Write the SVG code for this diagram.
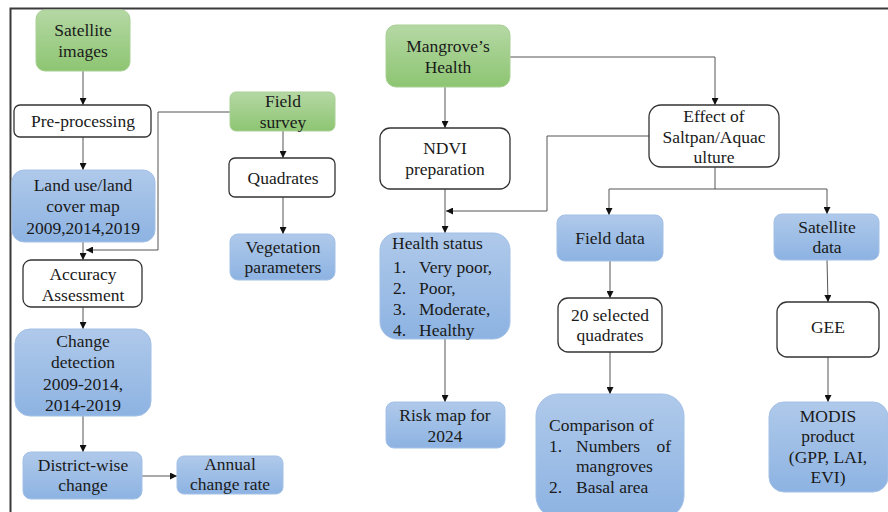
<svg xmlns="http://www.w3.org/2000/svg" width="888" height="512" viewBox="0 0 888 512">
<defs>
<linearGradient id="gGreen" x1="0" y1="0" x2="0" y2="1">
<stop offset="0" stop-color="#b5d8a4"/><stop offset="1" stop-color="#8dc572"/>
</linearGradient>
<linearGradient id="gBlue" x1="0" y1="0" x2="0" y2="1">
<stop offset="0" stop-color="#afc9ea"/><stop offset="1" stop-color="#8db3e2"/>
</linearGradient>
<marker id="arr" markerWidth="7" markerHeight="7" refX="7" refY="3.5" orient="auto" markerUnits="userSpaceOnUse">
<path d="M0,0 L7,3.5 L0,7 z" fill="#111"/>
</marker>
<style>
text{font-family:"Times New Roman",Tinos,"Liberation Serif","Noto Serif","Nimbus Roman","FreeSerif","DejaVu Serif",serif;font-size:17.5px;fill:#1a1a1a}
.c{text-anchor:middle}
.e{text-anchor:end}
.green{fill:url(#gGreen);stroke:#a9d095;stroke-width:1}
.blue{fill:url(#gBlue);stroke:#a3c0e6;stroke-width:1}
.white{fill:#fff;stroke:#333;stroke-width:1.3}
.con{fill:none;stroke:#555;stroke-width:1}
.arrow{marker-end:url(#arr)}
.frame{fill:none;stroke:#3a3a3a;stroke-width:2}
</style>
</defs>
<rect width="888" height="512" fill="#fff"/>
<path class="frame" d="M10.5,512 V8.5 H888"/>

<g id="connectors">
<line class="con arrow" x1="83" y1="71" x2="83" y2="105"/>
<line class="con arrow" x1="83" y1="137" x2="83" y2="170"/>
<line class="con arrow" x1="83" y1="242" x2="83" y2="260"/>
<polyline class="con arrow" points="230,112 158,112 158,250 86,250"/>
<line class="con arrow" x1="283" y1="131" x2="283" y2="158"/>
<line class="con arrow" x1="283" y1="197" x2="283" y2="234"/>
<line class="con arrow" x1="83" y1="307" x2="83" y2="329"/>
<line class="con arrow" x1="83" y1="416" x2="83" y2="452"/>
<line class="con arrow" x1="142" y1="476" x2="177" y2="476"/>
<polyline class="con arrow" points="510,57 715,57 715,105"/>
<line class="con arrow" x1="445" y1="87" x2="445" y2="128"/>
<polyline class="con arrow" points="649,136 547,136 547,211 446,211"/>
<line class="con arrow" x1="445" y1="189" x2="445" y2="233"/>
<line class="con arrow" x1="445" y1="339" x2="445" y2="402"/>
<polyline class="con arrow" points="715,167 715,189 609,189 609,215"/>
<polyline class="con arrow" points="715,189 827,189 827,214"/>
<line class="con arrow" x1="610" y1="261" x2="610" y2="298"/>
<line class="con arrow" x1="610" y1="352" x2="610" y2="394"/>
<line class="con arrow" x1="827" y1="260" x2="828" y2="302"/>
<line class="con arrow" x1="828" y1="357" x2="828" y2="402"/>
</g>

<g id="satellite-images">
<rect class="green" x="36" y="10" width="94" height="61" rx="9"/>
<text class="c" x="83" y="36">Satellite</text>
<text class="c" x="83" y="57">images</text>
</g>
<g id="pre-processing">
<rect class="white" x="14" y="105" width="137" height="32" rx="6"/>
<text class="c" x="83" y="127">Pre-processing</text>
</g>
<g id="land-use">
<rect class="blue" x="12" y="170" width="143" height="72" rx="12"/>
<text class="c" x="83" y="191">Land use/land</text>
<text class="c" x="83" y="212">cover map</text>
<text class="c" x="83" y="234">2009,2014,2019</text>
</g>
<g id="field-survey">
<rect class="green" x="230" y="92" width="105" height="39" rx="6"/>
<text class="c" x="283" y="107">Field</text>
<text class="c" x="283" y="128">survey</text>
</g>
<g id="quadrates">
<rect class="white" x="229" y="158" width="106" height="39" rx="6"/>
<text class="c" x="283" y="184">Quadrates</text>
</g>
<g id="vegetation-parameters">
<rect class="blue" x="230" y="234" width="105" height="46" rx="8"/>
<text class="c" x="283" y="253">Vegetation</text>
<text class="c" x="283" y="273">parameters</text>
</g>
<g id="accuracy-assessment">
<rect class="white" x="23" y="260" width="119" height="47" rx="8"/>
<text class="c" x="83" y="280">Accuracy</text>
<text class="c" x="83" y="301">Assessment</text>
</g>
<g id="change-detection">
<rect class="blue" x="15" y="329" width="136" height="87" rx="15"/>
<text class="c" x="83" y="347">Change</text>
<text class="c" x="83" y="368">detection</text>
<text class="c" x="83" y="390">2009-2014,</text>
<text class="c" x="83" y="411">2014-2019</text>
</g>
<g id="district-wise-change">
<rect class="blue" x="23" y="452" width="119" height="47" rx="8"/>
<text class="c" x="83" y="471">District-wise</text>
<text class="c" x="83" y="491">change</text>
</g>
<g id="annual-change-rate">
<rect class="blue" x="177" y="456" width="106" height="38" rx="7"/>
<text class="c" x="230" y="470">Annual</text>
<text class="c" x="230" y="490">change rate</text>
</g>

<g id="mangroves-health">
<rect class="green" x="386" y="25" width="124" height="62" rx="10"/>
<text class="c" x="448" y="52">Mangrove’s</text>
<text class="c" x="448" y="73">Health</text>
</g>
<g id="ndvi-preparation">
<rect class="white" x="380" y="128" width="130" height="61" rx="10"/>
<text class="c" x="445" y="154">NDVI</text>
<text class="c" x="445" y="175">preparation</text>
</g>
<g id="health-status">
<rect class="blue" x="380" y="233" width="130" height="106" rx="17"/>
<text x="392" y="249">Health status</text>
<text x="393" y="273">1.</text><text x="419" y="273">Very poor,</text>
<text x="393" y="294">2.</text><text x="419" y="294">Poor,</text>
<text x="393" y="315">3.</text><text x="419" y="315">Moderate,</text>
<text x="393" y="336">4.</text><text x="419" y="336">Healthy</text>
</g>
<g id="risk-map">
<rect class="blue" x="386" y="402" width="119" height="46" rx="8"/>
<text class="c" x="445" y="421">Risk map for</text>
<text class="c" x="445" y="442">2024</text>
</g>
<g id="effect-saltpan">
<rect class="white" x="649" y="105" width="130" height="62" rx="12"/>
<text class="c" x="714" y="122">Effect of</text>
<text class="c" x="714" y="143">Saltpan/Aquac</text>
<text class="c" x="714" y="163">ulture</text>
</g>
<g id="field-data">
<rect class="blue" x="557" y="215" width="106" height="46" rx="8"/>
<text class="c" x="610" y="244">Field data</text>
</g>
<g id="selected-quadrates">
<rect class="white" x="558" y="298" width="104" height="54" rx="10"/>
<text class="c" x="610" y="321">20 selected</text>
<text class="c" x="610" y="341">quadrates</text>
</g>
<g id="comparison">
<rect class="blue" x="536" y="394" width="148" height="124" rx="22"/>
<text x="549" y="431">Comparison of</text>
<text x="549" y="452">1.</text><text x="576" y="452">Numbers</text><text class="e" x="671" y="452">of</text>
<text x="576" y="472">mangroves</text>
<text x="549" y="493">2.</text><text x="576" y="493">Basal area</text>
</g>
<g id="satellite-data">
<rect class="blue" x="774" y="214" width="105" height="46" rx="8"/>
<text class="c" x="827" y="233">Satellite</text>
<text class="c" x="827" y="253">data</text>
</g>
<g id="gee">
<rect class="white" x="777" y="302" width="102" height="55" rx="10"/>
<text class="c" x="828" y="333">GEE</text>
</g>
<g id="modis-product">
<rect class="blue" x="769" y="402" width="119" height="90" rx="15"/>
<text class="c" x="828" y="422">MODIS</text>
<text class="c" x="828" y="442">product</text>
<text class="c" x="828" y="463">(GPP, LAI,</text>
<text class="c" x="828" y="483">EVI)</text>
</g>
</svg>
